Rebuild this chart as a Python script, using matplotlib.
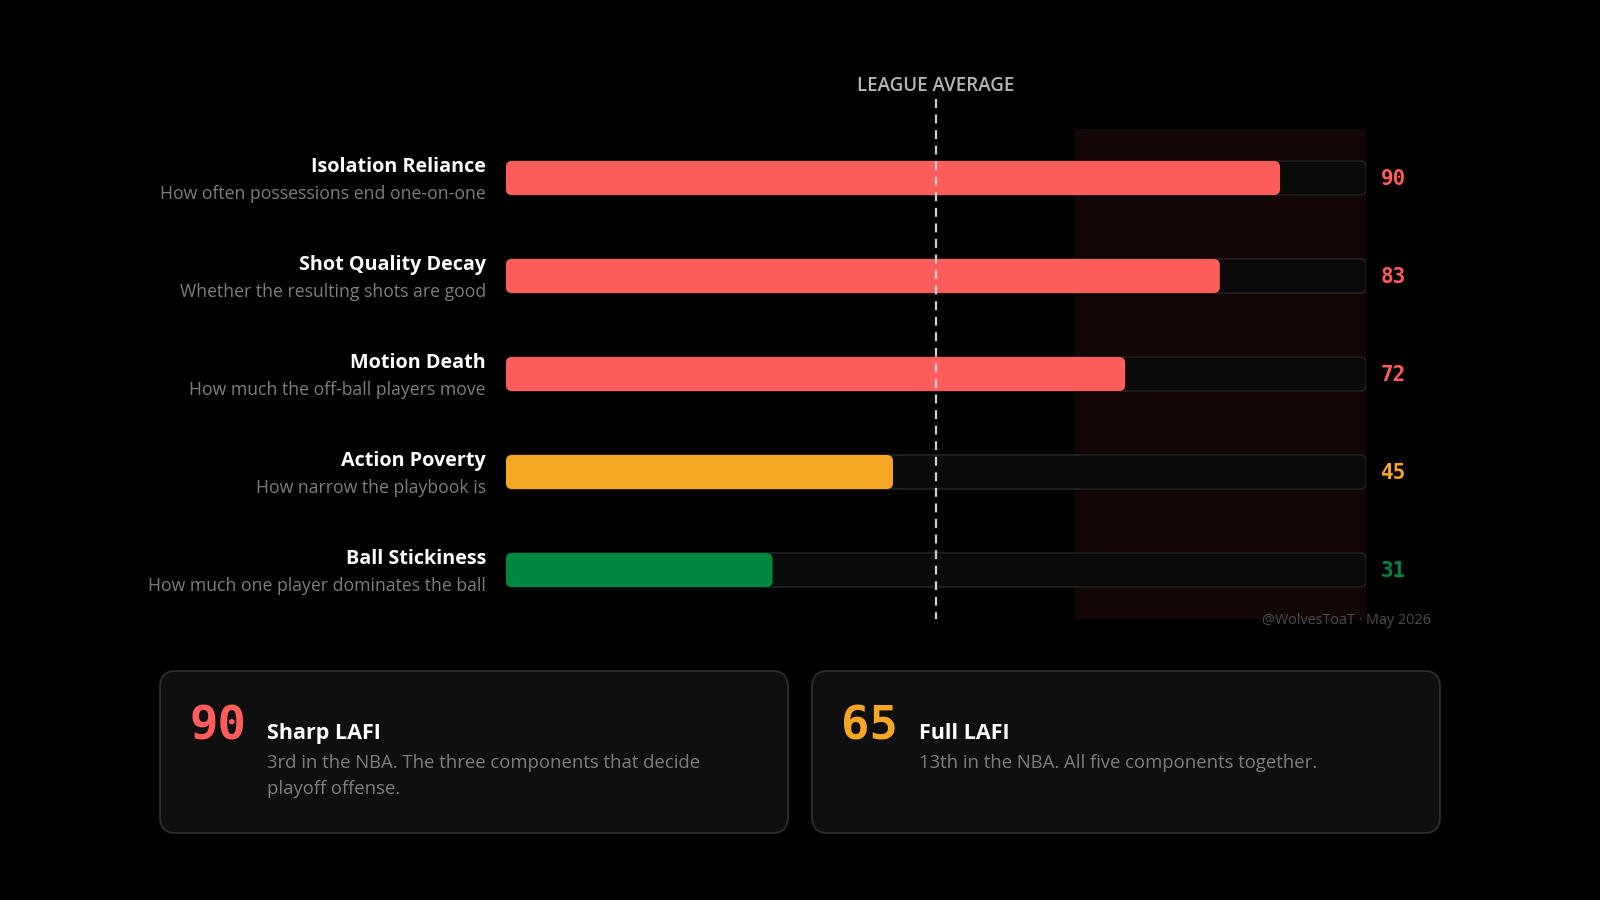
#!/usr/bin/env python3
import matplotlib
matplotlib.use("Agg")
import matplotlib.pyplot as plt
from matplotlib.patches import FancyBboxPatch

# data
titles = ["Isolation Reliance", "Shot Quality Decay", "Motion Death",
          "Action Poverty", "Ball Stickiness"]
subtitles = ["How often possessions end one-on-one",
             "Whether the resulting shots are good",
             "How much the off-ball players move",
             "How narrow the playbook is",
             "How much one player dominates the ball"]
values = [90, 83, 72, 45, 31]
bar_colors = ["#ff5c5c", "#ff5c5c", "#ff5c5c", "#f5a623", "#00873e"]
league_avg = 50
danger_start = 66

card_values = [90, 65]
card_colors = ["#ff5c5c", "#f5a623"]
card_titles = ["Sharp LAFI", "Full LAFI"]
card_descs = [["3rd in the NBA. The three components that decide", "playoff offense."],
              ["13th in the NBA. All five components together."]]
footer = "@WolvesToaT \u00b7 May 2026"

plt.rcParams["font.family"] = ["Open Sans", "DejaVu Sans"]
MONO = "DejaVu Sans Mono"

W, H = 1600, 900
fig = plt.figure(figsize=(16, 9), dpi=100, facecolor="black")

# main bar panel, pixel layout
left, right, top, bottom = 506, 1366, 129, 619
ax = fig.add_axes([left / W, 1 - bottom / H, (right - left) / W, (bottom - top) / H])
ax.set_facecolor("black")
ax.set_xlim(0, 100)
n = len(values)
ax.set_ylim(n - 0.5, -0.5)
ax.axis("off")

px_x = (right - left) / 100.0
px_y = (bottom - top) / n
asp = px_x / px_y
bh = 34 / px_y
rnd = 6 / px_x

ax.axvspan(danger_start, 100, color="#130606", zorder=0, lw=0)

for i, (v, c) in enumerate(zip(values, bar_colors)):
    track = FancyBboxPatch((0, i - bh / 2), 100, bh,
                           boxstyle=f"round,pad=0,rounding_size={rnd}",
                           mutation_aspect=asp, fc="#0a0a0a", ec="#222222",
                           lw=1.2, zorder=2)
    ax.add_patch(track)
    fill = FancyBboxPatch((0, i - bh / 2), v, bh,
                          boxstyle=f"round,pad=0,rounding_size={rnd}",
                          mutation_aspect=asp, fc=c, ec="none", zorder=3)
    ax.add_patch(fill)
    ax.annotate(titles[i], xy=(0, i), xytext=(-20, 11), textcoords="offset pixels",
                ha="right", va="center", color="white", fontsize=14.2,
                fontweight="bold", annotation_clip=False)
    ax.annotate(subtitles[i], xy=(0, i), xytext=(-20, -16), textcoords="offset pixels",
                ha="right", va="center", color="#7d7d7d", fontsize=12.7,
                annotation_clip=False)
    ax.annotate(str(v), xy=(100, i), xytext=(15, -1), textcoords="offset pixels",
                ha="left", va="center", color=c, fontsize=15, fontweight="bold",
                family=MONO, annotation_clip=False)

# league average line
ax.plot([league_avg, league_avg], [-0.5 - 30 / px_y, n - 0.5], color="#d0d0d0",
        lw=1.6, ls=(0, (4, 3)), clip_on=False, zorder=4)
ax.annotate("LEAGUE AVERAGE", xy=(league_avg, -0.5), xytext=(0, 43),
            textcoords="offset pixels", ha="center", va="center",
            color="#b5b5b5", fontsize=13.5, fontweight="semibold",
            annotation_clip=False)

fig.text(1431 / W, 1 - 620 / H, footer, ha="right", va="center",
         color="#4d4d4d", fontsize=10.4)

# summary cards
card_left = [159, 811]
cw, ch, ctop = 630, 164, 670
for k in range(len(card_values)):
    cax = fig.add_axes([card_left[k] / W, 1 - (ctop + ch) / H, cw / W, ch / H])
    cax.set_xlim(0, cw)
    cax.set_ylim(ch, 0)
    cax.axis("off")
    box = FancyBboxPatch((1, 1), cw - 2, ch - 2,
                         boxstyle="round,pad=0,rounding_size=16",
                         fc="#0f0f0f", ec="#2a2a2a", lw=1.5, clip_on=False)
    cax.add_patch(box)
    cax.text(30, 69, str(card_values[k]), ha="left", va="baseline",
             color=card_colors[k], fontsize=34, fontweight="bold", family=MONO)
    cax.text(108, 69, card_titles[k], ha="left", va="baseline",
             color="white", fontsize=15.5, fontweight="bold")
    for j, line in enumerate(card_descs[k]):
        cax.text(108, 98 + 26 * j, line, ha="left", va="baseline",
                 color="#7d7d7d", fontsize=13.3)

fig.savefig("out.png", dpi=100, facecolor="black")
